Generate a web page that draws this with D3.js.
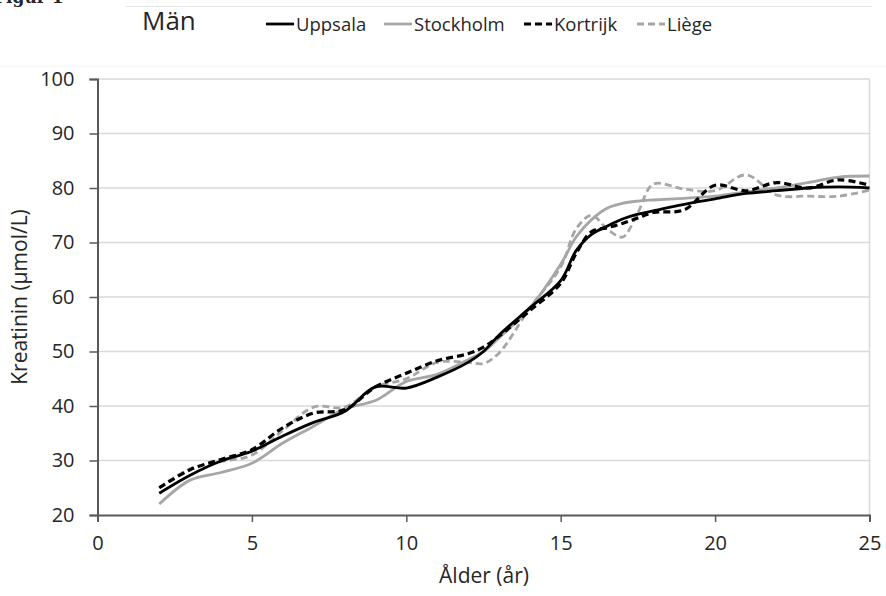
<!DOCTYPE html>
<html>
<head>
<meta charset="utf-8">
<script src="https://cdn.jsdelivr.net/npm/d3@7"></script>
<style>
  body { margin: 0; background: #fff; }
  text { font-family: "Open Sans", sans-serif; fill: #262626; }
</style>
</head>
<body>
<div id="chart"></div>
<script>
// data (kreatinin, men)
let ages = [2, 3, 4, 5, 6, 7, 8, 9, 10, 11, 12, 12.5, 13, 14, 15, 15.5, 16, 16.5, 17, 17.5, 18, 19, 20, 21, 22, 23, 24, 25];

let uppsala   = [24, 27.3, 29.9, 31.7, 34.5, 37, 39, 43.5, 43.3, 45.3, 48, 50, 53, 58, 63, 68.5, 71.5, 73, 74.3, 75.2, 75.8, 77, 78, 79, 79.5, 80, 80.2, 80];
let stockholm = [22, 26.4, 27.8, 29.5, 33.2, 36.3, 39.5, 41, 44.5, 45.8, 48.5, 50, 52.5, 58, 66, 71, 74.2, 76.3, 77.2, 77.6, 77.8, 78.1, 78.5, 79.3, 80, 81, 82, 82.2];
let kortrijk  = [25, 28.3, 30.2, 32, 36, 38.7, 39.3, 43.5, 46, 48.3, 49.6, 50.8, 52.8, 57.5, 62.5, 68, 72, 72.7, 73.5, 74.5, 75.5, 76, 80.5, 79.5, 81, 80, 81.5, 80.5];
let liege     = [25, 28.5, 29.8, 31, 35.5, 39.8, 39.8, 43.5, 45, 48, 48, 47.8, 49.7, 58, 65.5, 72.5, 75, 72.5, 71, 75.5, 80.7, 79.8, 79.5, 82.4, 78.7, 78.5, 78.5, 79.6];

let seriesNames = ["Uppsala", "Stockholm", "Kortrijk", "Liège"];
let xTicks = [0, 5, 10, 15, 20, 25];
let yTicks = [20, 30, 40, 50, 60, 70, 80, 90, 100];

let styles = [
  { color: "#000", dash: null, width: 2.8 },
  { color: "#a6a6a6", dash: null, width: 2.8 },
  { color: "#000", dash: "7,4", width: 3.2 },
  { color: "#a6a6a6", dash: "7,4", width: 2.8 }
];

let allSeries = [uppsala, stockholm, kortrijk, liege];

let W = 886, H = 596;
let margin = { top: 79, right: 15, bottom: 81, left: 97.5 };

let svg = d3.select("#chart").append("svg")
  .attr("width", W)
  .attr("height", H);

// bits around the cropped figure
svg.append("text")
  .attr("x", -6).attr("y", 3)
  .style("font-family", "'DejaVu Serif', serif")
  .style("font-weight", "bold")
  .style("font-size", "17px")
  .text("Figur 1");

svg.append("line")
  .attr("x1", 126).attr("x2", 872)
  .attr("y1", 6.5).attr("y2", 6.5)
  .attr("stroke", "#e6e6e6");

svg.append("line")
  .attr("x1", 0).attr("x2", W)
  .attr("y1", 66.5).attr("y2", 66.5)
  .attr("stroke", "#f6f6f6");

let x = d3.scaleLinear().domain([0, 25]).range([margin.left, W - margin.right - 1.5]);
let y = d3.scaleLinear().domain([20, 100]).range([H - margin.bottom, margin.top]);

// gridlines
svg.append("g")
  .selectAll("line")
  .data(yTicks.slice(1))
  .enter().append("line")
  .attr("x1", x(0)).attr("x2", x(25))
  .attr("y1", d => y(d)).attr("y2", d => y(d))
  .attr("stroke", "#d9d9d9")
  .attr("stroke-width", 1.5);

// right border
svg.append("line")
  .attr("x1", x(25)).attr("x2", x(25))
  .attr("y1", y(100)).attr("y2", y(20))
  .attr("stroke", "#d9d9d9")
  .attr("stroke-width", 1.5);

// axes
let xAxis = svg.append("g")
  .attr("transform", "translate(0," + y(20) + ")")
  .call(d3.axisBottom(x).tickValues(xTicks).tickSize(7).tickPadding(14));

let yAxis = svg.append("g")
  .attr("transform", "translate(" + x(0) + ",0)")
  .call(d3.axisLeft(y).tickValues(yTicks).tickSize(8).tickPadding(15));

[xAxis, yAxis].forEach(function(ax) {
  ax.select(".domain").attr("stroke", "#595959").attr("stroke-width", 2);
  ax.selectAll(".tick line").attr("stroke", "#595959").attr("stroke-width", 1.5);
  ax.selectAll(".tick text")
    .style("font-family", "'Open Sans', sans-serif")
    .style("font-size", "20px")
    .attr("fill", "#262626");
});

// axis titles
svg.append("text")
  .attr("x", 484).attr("y", 583)
  .attr("text-anchor", "middle")
  .style("font-size", "21px")
  .text("Ålder (år)");

svg.append("text")
  .attr("transform", "translate(27," + 297 + ")rotate(-90)")
  .attr("text-anchor", "middle")
  .style("font-size", "21px")
  .text("Kreatinin (µmol/L)");

// lines
let line = d3.line()
  .x(d => x(d[0]))
  .y(d => y(d[1]))
  .curve(d3.curveCatmullRom.alpha(0.5));

let drawOrder = [3, 1, 2, 0];
drawOrder.forEach(function(i) {
  let pts = ages.map((a, j) => [a, allSeries[i][j]]);
  svg.append("path")
    .datum(pts)
    .attr("fill", "none")
    .attr("stroke", styles[i].color)
    .attr("stroke-width", styles[i].width)
    .attr("stroke-dasharray", styles[i].dash)
    .attr("d", line);
});

// legend
svg.append("text")
  .attr("x", 142).attr("y", 30)
  .style("font-size", "26px")
  .text("Män");

let legendX = [266, 384, 524, 637];
let legend = svg.append("g");
seriesNames.forEach(function(name, i) {
  let g = legend.append("g").attr("transform", "translate(" + legendX[i] + ",24)");
  g.append("line")
    .attr("x1", 0).attr("x2", 28)
    .attr("stroke", styles[i].color)
    .attr("stroke-width", styles[i].width)
    .attr("stroke-dasharray", styles[i].dash);
  g.append("text")
    .attr("x", 30).attr("y", 7)
    .style("font-size", "18.5px")
    .text(name);
});
</script>
</body>
</html>
